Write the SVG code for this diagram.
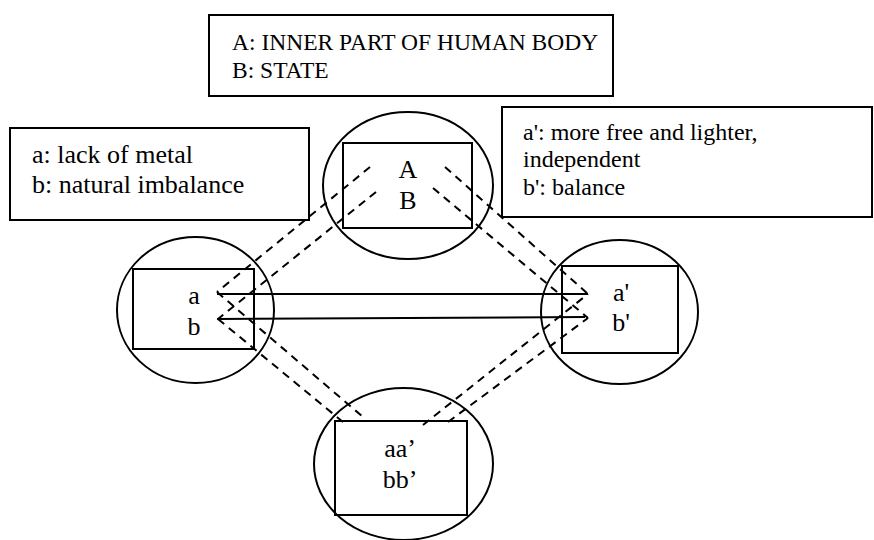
<svg xmlns="http://www.w3.org/2000/svg" width="874" height="540" viewBox="0 0 874 540">
  <style>
    .frame { fill: none; stroke: #000; stroke-width: 2; }
    .ring { fill: none; stroke: #000; stroke-width: 2; }
    .solid { stroke: #000; stroke-width: 2; fill: none; }
    .dash { stroke: #000; stroke-width: 2; fill: none; stroke-dasharray: 8 6; }
    .t { font-family: "Liberation Serif", "Times New Roman", serif; fill: #000; }
    .legend-top { font-size: 23.5px; }
    .legend { font-size: 24px; }
    .legend-l { font-size: 26px; }
    .node { font-size: 26px; text-anchor: middle; }
  </style>
  <rect width="874" height="540" fill="#fff"/>

  <!-- legend boxes -->
  <g id="legend-top">
    <rect class="frame" x="209" y="15" width="404" height="81"/>
    <text class="t legend-top" x="232" y="50">A: INNER PART OF HUMAN BODY</text>
    <text class="t legend-top" x="232" y="78">B: STATE</text>
  </g>
  <g id="legend-left">
    <rect class="frame" x="10" y="128" width="299" height="92"/>
    <text class="t legend-l" x="32" y="163">a: lack of metal</text>
    <text class="t legend-l" x="32" y="193">b: natural imbalance</text>
  </g>
  <g id="legend-right">
    <rect class="frame" x="502" y="107" width="370" height="110"/>
    <text class="t legend" x="523" y="140">a': more free and lighter,</text>
    <text class="t legend" x="523" y="167">independent</text>
    <text class="t legend" x="523" y="195">b': balance</text>
  </g>

  <!-- nodes -->
  <g id="node-top">
    <ellipse class="ring" cx="408" cy="185.5" rx="85" ry="73.5"/>
    <rect class="frame" x="343" y="143" width="129" height="85"/>
    <text class="t node" x="408" y="178">A</text>
    <text class="t node" x="408" y="209">B</text>
  </g>
  <g id="node-left">
    <ellipse class="ring" cx="195.5" cy="310" rx="78.5" ry="73"/>
    <rect class="frame" x="133" y="269" width="121" height="80"/>
    <text class="t node" x="194" y="304">a</text>
    <text class="t node" x="194" y="335">b</text>
  </g>
  <g id="node-right">
    <ellipse class="ring" cx="619.5" cy="312" rx="78.5" ry="72"/>
    <rect class="frame" x="562" y="266" width="116" height="87"/>
    <text class="t node" x="621" y="301">a'</text>
    <text class="t node" x="621" y="331">b'</text>
  </g>
  <g id="node-bottom">
    <ellipse class="ring" cx="403.5" cy="464" rx="89.5" ry="76"/>
    <rect class="frame" x="335" y="421" width="132" height="94"/>
    <text class="t node" x="400" y="457">aa’</text>
    <text class="t node" x="400" y="488">bb’</text>
  </g>

  <!-- connectors: solid a-a', b-b' links and dashed diagonal pairs -->
  <g id="connectors">
    <line class="solid" x1="217" y1="294" x2="588" y2="294"/>
    <line class="solid" x1="217" y1="319" x2="585" y2="317"/>

    <line class="dash" x1="370" y1="167" x2="217" y2="292"/>
    <line class="dash" x1="376" y1="192" x2="218" y2="319"/>

    <line class="dash" x1="445" y1="167" x2="588" y2="294"/>
    <line class="dash" x1="433" y1="188" x2="588" y2="318"/>

    <line class="dash" x1="217" y1="292" x2="363" y2="417"/>
    <line class="dash" x1="218" y1="319" x2="343" y2="422"/>

    <line class="dash" x1="423" y1="425" x2="588" y2="294"/>
    <line class="dash" x1="448" y1="422" x2="588" y2="318"/>
  </g>
</svg>
